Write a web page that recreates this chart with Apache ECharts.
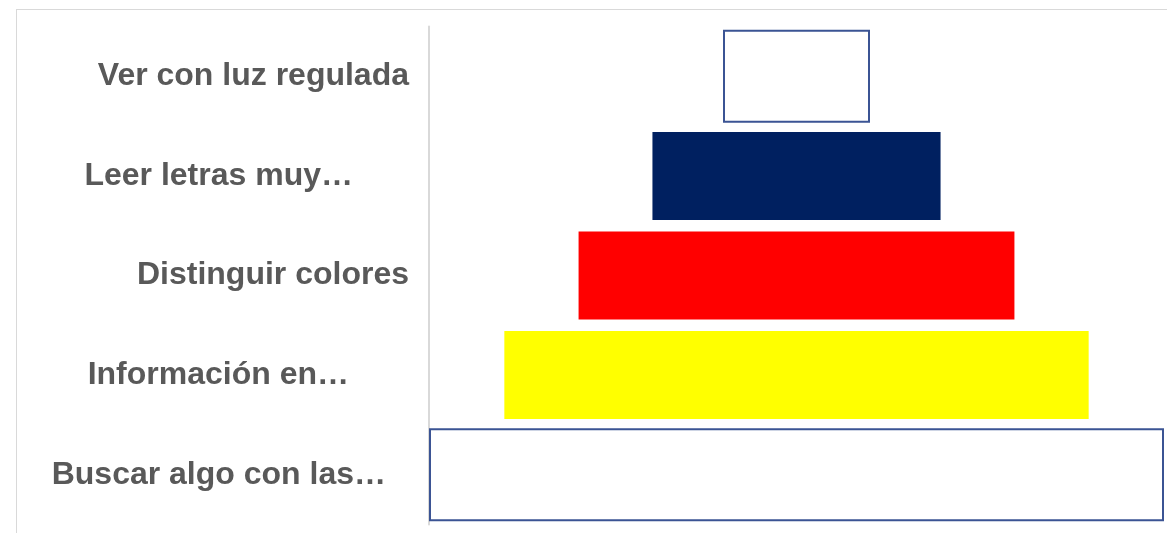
<!DOCTYPE html>
<html>
<head>
<meta charset="utf-8">
<script src="https://cdn.jsdelivr.net/npm/echarts@6/dist/echarts.min.js"></script>
<style>
html,body{margin:0;padding:0;background:#fff;}
#frame{position:absolute;left:16px;top:9px;width:1200px;height:600px;border-left:1px solid #d9d9d9;border-top:1px solid #d9d9d9;}
#chart{position:absolute;left:0;top:0;width:1167px;height:533px;}
</style>
</head>
<body>
<div id="frame"></div>
<div id="chart"></div>
<script>
// top to bottom order
var categories = ["Ver con luz regulada", "Leer letras muy…", "Distinguir colores", "Información en…", "Buscar algo con las…"];
var values = [20, 39.2, 59.3, 79.5, 100];
var fills = ["#ffffff", "#002060", "#ff0000", "#ffff00", "#ffffff"];
var outlined = [true, false, false, false, true];
var labelPads = [0, 56, 0, 60, 23];
var maxValue = 100;

var offsets = values.map(function (v) { return (maxValue - v) / 2; });

function pick(arr, wantOutlined) {
  return arr.map(function (v, i) { return outlined[i] === wantOutlined ? v : '-'; });
}

var chart = echarts.init(document.getElementById('chart'));
var yBase = {
  type: 'category', inverse: true,
  axisTick: { show: false }
};
chart.setOption({
  animation: false,
  grid: { left: 429, right: 3, top: 26.5, bottom: 8.5, containLabel: false },
  xAxis: { type: 'value', min: 0, max: maxValue, show: false },
  yAxis: [
    Object.assign({}, yBase, {
      data: categories.map(function (c, i) {
        return { value: c, textStyle: { padding: [0, labelPads[i], 0, 0] } };
      }),
      offset: 2,
      axisLine: { show: true, lineStyle: { color: '#d9d9d9', width: 2 } },
      axisLabel: {
        margin: 18,
        color: '#595959',
        fontFamily: 'Liberation Sans, Arial, sans-serif',
        fontWeight: 'bold',
        fontSize: 32
      }
    }),
    Object.assign({}, yBase, { data: categories, show: false })
  ],
  series: [
    {
      type: 'bar', stack: 'c', yAxisIndex: 0, silent: true,
      data: pick(offsets, false),
      itemStyle: { color: 'transparent' },
      barWidth: 88
    },
    {
      type: 'bar', stack: 'c', yAxisIndex: 0,
      data: values.map(function (v, i) {
        return outlined[i] ? '-' : { value: v, itemStyle: { color: fills[i] } };
      }),
      barWidth: 88
    },
    {
      type: 'bar', stack: 'w', yAxisIndex: 1, silent: true,
      data: pick(offsets, true),
      itemStyle: { color: 'transparent' },
      barWidth: 93
    },
    {
      type: 'bar', stack: 'w', yAxisIndex: 1,
      data: values.map(function (v, i) {
        return outlined[i] ? { value: v, itemStyle: { color: fills[i], borderColor: '#3b5494', borderWidth: 2 } } : '-';
      }),
      barWidth: 93
    }
  ]
});
</script>
</body>
</html>
